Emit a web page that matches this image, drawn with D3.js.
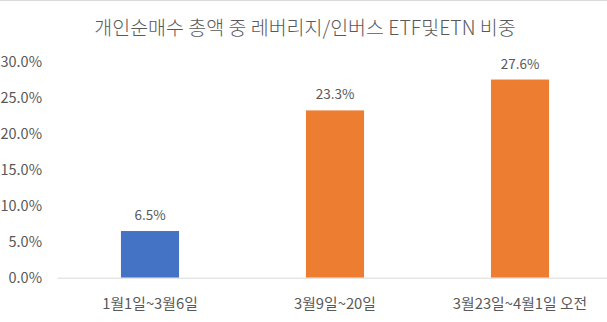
<!DOCTYPE html>
<html>
<head>
<meta charset="utf-8">
<script src="https://cdn.jsdelivr.net/npm/d3@7"></script>
<style>
  html, body { margin: 0; padding: 0; background: #fff; }
  svg { display: block; }
  text { font-family: "Noto Sans CJK KR", "Noto Sans", sans-serif; fill: #595959; }
</style>
</head>
<body>
<svg id="chart" width="607" height="322"></svg>
<script>
// Share of leveraged/inverse ETF & ETN in individual net buying
const categories = ["1월1일~3월6일", "3월9일~20일", "3월23일~4월1일 오전"];
const values = [6.5, 23.3, 27.6];
const barColors = ["#4472C4", "#ED7D31", "#ED7D31"];
const yTicks = [0, 5, 10, 15, 20, 25, 30];
const title = "개인순매수 총액 중 레버리지/인버스 ETF및ETN 비중";

const svg = d3.select("#chart");
const W = 607, H = 322;

// chart frame line along the top
svg.append("line")
  .attr("x1", 0).attr("x2", W).attr("y1", 0.5).attr("y2", 0.5)
  .attr("stroke", "#d9d9d9").attr("stroke-width", 1);

svg.append("text")
  .attr("x", 305).attr("y", 35)
  .attr("text-anchor", "middle")
  .attr("font-size", 19.5)
  .attr("font-weight", 300)
  .text(title);

const x = d3.scaleBand().domain(categories).range([57.5, 612.5]).paddingInner(0.686).paddingOuter(0.343);
const y = d3.scaleLinear().domain([0, 30]).range([277.7, 62.3]);

// value axis labels
const yAxis = d3.axisLeft(y).tickValues(yTicks).tickSize(0).tickPadding(0)
  .tickFormat(d => d3.format(".1f")(d) + "%");
const gy = svg.append("g").attr("transform", "translate(42,0)").call(yAxis);
gy.select(".domain").remove();
gy.selectAll("text").attr("font-size", 14.5).attr("fill", "#595959")
  .style("font-family", "'Noto Sans CJK KR', sans-serif");

// bars
svg.append("g").selectAll("rect").data(values).join("rect")
  .attr("x", (d, i) => x(categories[i]))
  .attr("width", x.bandwidth())
  .attr("y", d => y(d))
  .attr("height", d => y(0) - y(d))
  .attr("fill", (d, i) => barColors[i]);

// baseline / category axis
const xAxis = d3.axisBottom(x).tickSize(0).tickPadding(0);
const gx = svg.append("g").attr("transform", `translate(0,${y(0)})`).call(xAxis);
gx.select(".domain").attr("stroke", "#d9d9d9").attr("d", `M57.5,0.5H${W}`);
gx.selectAll("text").attr("font-size", 14.8).attr("fill", "#595959")
  .attr("dy", null).attr("y", 31)
  .style("font-family", "'Noto Sans CJK KR', sans-serif");

// value labels above bars
svg.append("g").selectAll("text").data(values).join("text")
  .attr("x", (d, i) => x(categories[i]) + x.bandwidth() / 2)
  .attr("y", d => y(d) - 11)
  .attr("text-anchor", "middle")
  .attr("font-size", 13.5)
  .text(d => d3.format(".1f")(d) + "%");
</script>
</body>
</html>
